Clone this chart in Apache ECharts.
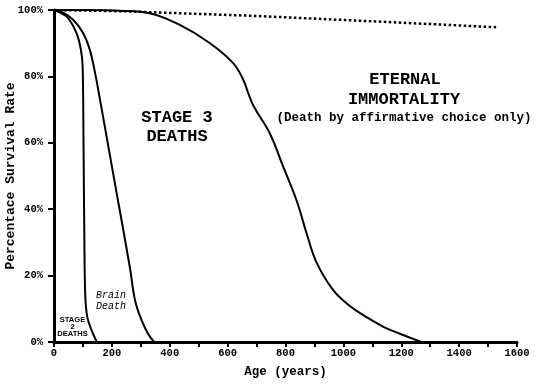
<!DOCTYPE html>
<html>
<head>
<meta charset="utf-8">
<script src="https://cdn.jsdelivr.net/npm/echarts@6/dist/echarts.min.js"></script>
<style>html,body{margin:0;padding:0;background:#fff}#c{width:541px;height:387px}</style>
</head>
<body>
<div id="c"></div>
<script>
const stage2Age = [0, 44, 78, 93, 99, 102, 105, 108, 115, 130, 148];
const stage2Survival = [100, 98, 93, 88, 83, 60, 30, 14, 7.5, 3.5, 0];
const brainAge = [0, 30, 67, 101, 124, 142, 159, 210, 262, 280, 303, 325, 346];
const brainSurvival = [100, 99.3, 97, 93, 88, 81, 73, 48, 22.6, 12.6, 6.5, 2.5, 0];
const stage3Age = [0, 120, 228, 331, 435, 539, 619, 654, 671, 690, 746, 792, 838, 873, 907, 965, 1020, 1080, 1140, 1195, 1270];
const stage3Survival = [100, 100, 99.8, 99, 95.5, 90, 84, 79, 75, 71, 62.8, 52.8, 42.7, 32.7, 24, 15.6, 11, 7.5, 4.5, 2.5, 0];
const immortalAge = [0, 250, 700, 1100, 1530];
const immortalSurvival = [100, 99.6, 98.2, 96.6, 94.8];
const xTicks = [0, 200, 400, 600, 800, 1000, 1200, 1400, 1600];
const yTicks = [0, 20, 40, 60, 80, 100];

const zip = (a, b) => a.map((v, i) => [v, b[i]]);
const mono = '"Liberation Mono", "Courier New", monospace';
const sans = '"Liberation Sans", Arial, sans-serif';

const chart = echarts.init(document.getElementById('c'));
const lineStyle = { color: '#000', width: 2 };
const txt = (x, y, text, font, extra) => Object.assign({ type: 'text', x, y,
  style: { text, textAlign: 'center', textVerticalAlign: 'middle', font, fill: '#000' } }, extra || {});
chart.setOption({
  animation: false,
  grid: { left: 54, right: 24, top: 10, bottom: 45, containLabel: false, outerBoundsMode: 'none' },
  xAxis: {
    type: 'value', min: 0, max: 1600, interval: 100,
    name: 'Age (years)', nameLocation: 'middle', nameGap: 23, nameMoveOverlap: false,
    nameTextStyle: { fontFamily: mono, fontWeight: 'bold', fontSize: 12.5, color: '#000' },
    axisLine: { lineStyle: { color: '#000', width: 3 } },
    axisTick: { length: 5, lineStyle: { color: '#000', width: 2 } },
    axisLabel: {
      margin: 6, fontFamily: mono, fontWeight: 'bold', fontSize: 10.5, color: '#000',
      formatter: v => xTicks.includes(v) ? String(v) : ''
    },
    splitLine: { show: false }
  },
  yAxis: {
    type: 'value', min: 0, max: 100, interval: 20,
    name: 'Percentace Survival Rate', nameLocation: 'middle', nameGap: 43, nameRotate: 90, nameMoveOverlap: false,
    nameTextStyle: { fontFamily: mono, fontWeight: 'bold', fontSize: 13, color: '#000', verticalAlign: 'middle' },
    axisLine: { lineStyle: { color: '#000', width: 3 } },
    axisTick: { length: 6, lineStyle: { color: '#000', width: 2 } },
    axisLabel: {
      margin: 11, fontFamily: mono, fontWeight: 'bold', fontSize: 10.5, color: '#000',
      formatter: v => yTicks.includes(v) ? v + '%' : ''
    },
    splitLine: { show: false }
  },
  series: [
    { type: 'line', data: zip(immortalAge, immortalSurvival), symbol: 'none',
      lineStyle: { color: '#000', width: 2.5, type: 'dotted' }, z: 1 },
    { type: 'line', data: zip(stage3Age, stage3Survival), symbol: 'none', smooth: 0.4, lineStyle, z: 2 },
    { type: 'line', data: zip(brainAge, brainSurvival), symbol: 'none', smooth: 0.4, lineStyle, z: 2 },
    { type: 'line', data: zip(stage2Age, stage2Survival), symbol: 'none', smooth: 0.3, lineStyle, z: 2 }
  ],
  graphic: [
    txt(405, 80, 'ETERNAL', 'bold 17px ' + mono),
    txt(404, 100, 'IMMORTALITY', 'bold 17px ' + mono),
    txt(404, 118, '(Death by affirmative choice only)', 'bold 12.5px ' + mono),
    txt(177, 118, 'STAGE 3', 'bold 17px ' + mono),
    txt(177, 137, 'DEATHS', 'bold 17px ' + mono),
    txt(111, 295, 'Brain', 'italic 10px ' + mono),
    txt(111, 306, 'Death', 'italic 10px ' + mono),
    txt(72.5, 319.5, 'STAGE', 'bold 8px ' + sans, { scaleX: 0.95 }),
    txt(72.5, 326.5, '2', 'bold 8px ' + sans, { scaleX: 0.95 }),
    txt(72.5, 334, 'DEATHS', 'bold 8px ' + sans, { scaleX: 0.95 })
  ]
});
</script>
</body>
</html>
